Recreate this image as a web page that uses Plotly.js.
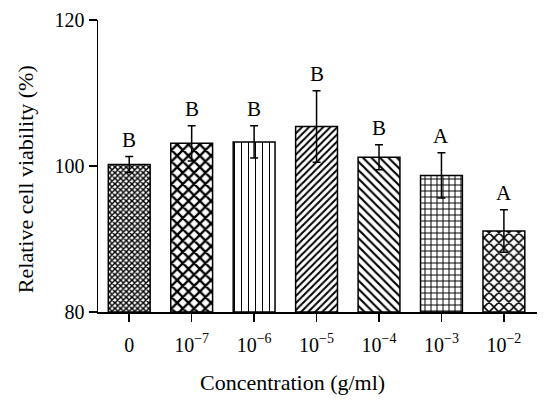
<!DOCTYPE html>
<html><head><meta charset="utf-8">
<script src="https://cdn.plot.ly/plotly-3.0.1.min.js"></script>
<style>html,body{margin:0;padding:0;background:#fff}#c{width:551px;height:408px}</style>
</head><body><div id="c"></div>
<script>
const categories = ["0","10<sup>−7</sup>","10<sup>−6</sup>","10<sup>−5</sup>","10<sup>−4</sup>","10<sup>−3</sup>","10<sup>−2</sup>"];
const viability = [100.2, 103.1, 103.3, 105.4, 101.2, 98.7, 91.1];
const sd = [1.1, 2.4, 2.2, 4.9, 1.7, 3.1, 2.9];
const letters = ["B","B","B","B","B","A","A"];
const shapes = ["x", "x", "|", "/", "\\", "+", "x"];
const psize = [4, 8, 7, 5, 6, 6, 7];
const psol = [0.6, 0.5, 0.15, 0.4, 0.35, 0.3, 0.4];

const font = "Liberation Serif, Times New Roman, serif";
const base = 80;
const trace = {
  type: "bar",
  x: categories,
  y: viability.map(v => v - base),
  base: base,
  width: 0.67,
  marker: {
    color: "white",
    line: {color: "black", width: 1.5},
    pattern: {shape: shapes, size: psize, solidity: psol, fgcolor: "black", fgopacity: 1, bgcolor: "white", fillmode: "replace"}
  },
  error_y: {type: "data", array: sd, visible: true, color: "black", thickness: 1.5, width: 4},
  hoverinfo: "none"
};

const annotations = categories.map((c, i) => ({
  x: c, y: viability[i] + sd[i], xref: "x", yref: "y",
  text: letters[i], showarrow: false, yanchor: "bottom", yshift: 3,
  font: {family: font, size: 21, color: "black"}
}));
annotations.push({
  text: "Relative cell viability (%)", textangle: -90, showarrow: false,
  xref: "paper", yref: "paper", x: 0, y: 0.455, xanchor: "center", yanchor: "middle", xshift: -73,
  font: {family: font, size: 22, color: "black"}
});
annotations.push({
  text: "Concentration (g/ml)", showarrow: false,
  xref: "paper", yref: "paper", x: 0.444, y: 0, xanchor: "center", yanchor: "middle", yshift: -70,
  font: {family: font, size: 22, color: "black"}
});

const layout = {
  width: 551, height: 408,
  margin: {l: 98, r: 14, t: 20, b: 96},
  paper_bgcolor: "white", plot_bgcolor: "white",
  showlegend: false,
  font: {family: font, size: 20, color: "black"},
  xaxis: {
    type: "category", range: [-0.5, 6.53],
    showline: true, linecolor: "black", linewidth: 1.5,
    ticks: "outside", ticklen: 8, tickwidth: 1.5, tickcolor: "black",
    ticklabelstandoff: 6,
    showgrid: false, zeroline: false,
    tickfont: {family: font, size: 20}
  },
  yaxis: {
    range: [80, 120], tickvals: [80, 100, 120],
    showline: true, linecolor: "black", linewidth: 1.5,
    ticks: "outside", ticklen: 8, tickwidth: 1.5, tickcolor: "black",
    showgrid: false, zeroline: false,
    tickfont: {family: font, size: 20}
  },
  annotations: annotations
};
Plotly.newPlot("c", [trace], layout, {staticPlot: true, displayModeBar: false});
</script>
</body></html>
